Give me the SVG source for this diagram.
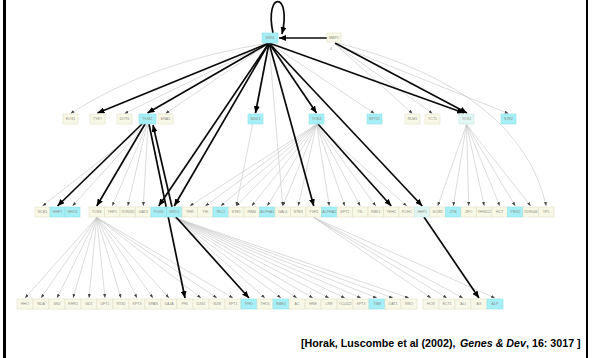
<svg xmlns="http://www.w3.org/2000/svg" width="592" height="358" viewBox="0 0 592 358">
<defs>
<marker id="ah" markerUnits="userSpaceOnUse" markerWidth="7" markerHeight="6" refX="7" refY="3" orient="auto"><path d="M0,0 L7,3 L0,6 z" fill="#000"/></marker>
<marker id="as" markerUnits="userSpaceOnUse" markerWidth="4" markerHeight="3" refX="4" refY="1.5" orient="auto"><path d="M0,0 L4,1.5 L0,3 z" fill="#444"/></marker>
</defs>
<style>
.b{fill:#f8f8e6;stroke:#e0e0c8;stroke-width:.6}
.c{fill:#a6eff6;stroke:#90e2ea;stroke-width:.6}
.p{fill:#e2f7f3;stroke:#cde9e4;stroke-width:.6}
.t{font-family:"Liberation Sans",Arial,sans-serif;font-size:3.6px;fill:#8c8c80;text-anchor:middle}
.k{fill:none;stroke:#0a0a0a;stroke-width:1.7;marker-end:url(#ah)}
.g{fill:none;stroke:#c4c4c4;stroke-width:.6;marker-end:url(#as)}
.cite{font-family:"Liberation Sans",Arial,sans-serif;font-size:10.7px;font-weight:bold;fill:#000}
</style>
<rect width="592" height="358" fill="#fff"/>
<line x1="4.5" y1="0" x2="4.5" y2="358" stroke="#000" stroke-width="3"/>
<line x1="587" y1="0" x2="587" y2="358" stroke="#000" stroke-width="2"/>

<g id="connectors">
<path class="g" d="M269,43 Q150,62 70.5,113.5"/>
<line class="g" x1="269" y1="43" x2="124.5" y2="113.5"/>
<line class="g" x1="269" y1="43" x2="165.5" y2="113.5"/>
<line class="g" x1="269" y1="43" x2="374.5" y2="113.5"/>
<line class="g" x1="269" y1="43" x2="236.25" y2="206"/>
<line class="g" x1="269" y1="43" x2="282.75" y2="206"/>
<line class="g" x1="335" y1="44" x2="412.5" y2="113.5"/>
<line class="g" x1="335" y1="44" x2="432.5" y2="113.5"/>
<line class="g" x1="335" y1="44" x2="508.5" y2="113.5"/>
<path class="g" d="M338,43 Q520,90 546.25,206"/>
<line class="g" x1="146" y1="124.5" x2="42.5" y2="206"/>
<line class="g" x1="146" y1="124.5" x2="72.5" y2="206"/>
<line class="g" x1="147" y1="124.5" x2="112.25" y2="206"/>
<line class="g" x1="147" y1="124.5" x2="127.75" y2="206"/>
<line class="g" x1="148" y1="124.5" x2="143.25" y2="206"/>
<line class="g" x1="316.5" y1="124.5" x2="189.75" y2="206"/>
<line class="g" x1="316.5" y1="124.5" x2="205.25" y2="206"/>
<line class="g" x1="316.5" y1="124.5" x2="220.75" y2="206"/>
<line class="g" x1="316.5" y1="124.5" x2="236.25" y2="206"/>
<line class="g" x1="316.5" y1="124.5" x2="251.75" y2="206"/>
<line class="g" x1="316.5" y1="124.5" x2="267.25" y2="206"/>
<line class="g" x1="316.5" y1="124.5" x2="282.75" y2="206"/>
<line class="g" x1="316.5" y1="124.5" x2="298.25" y2="206"/>
<line class="g" x1="316.5" y1="124.5" x2="329.25" y2="206"/>
<line class="g" x1="316.5" y1="124.5" x2="344.75" y2="206"/>
<line class="g" x1="316.5" y1="124.5" x2="360.25" y2="206"/>
<line class="g" x1="316.5" y1="124.5" x2="375.75" y2="206"/>
<line class="g" x1="316.5" y1="124.5" x2="406.75" y2="206"/>
<line class="g" x1="466.5" y1="124.5" x2="437.75" y2="206"/>
<line class="g" x1="466.5" y1="124.5" x2="453.25" y2="206"/>
<line class="g" x1="466.5" y1="124.5" x2="468.75" y2="206"/>
<line class="g" x1="466.5" y1="124.5" x2="484.25" y2="206"/>
<line class="g" x1="466.5" y1="124.5" x2="499.75" y2="206"/>
<line class="g" x1="466.5" y1="124.5" x2="515.25" y2="206"/>
<line class="g" x1="466.5" y1="124.5" x2="530.75" y2="206"/>
<line class="g" x1="96.75" y1="217.5" x2="25" y2="298"/>
<line class="g" x1="96.75" y1="217.5" x2="41" y2="298"/>
<line class="g" x1="96.75" y1="217.5" x2="57" y2="298"/>
<line class="g" x1="96.75" y1="217.5" x2="73" y2="298"/>
<line class="g" x1="96.75" y1="217.5" x2="89" y2="298"/>
<line class="g" x1="96.75" y1="217.5" x2="105" y2="298"/>
<line class="g" x1="96.75" y1="217.5" x2="121" y2="298"/>
<line class="g" x1="96.75" y1="217.5" x2="137" y2="298"/>
<line class="g" x1="96.75" y1="217.5" x2="153" y2="298"/>
<line class="g" x1="96.75" y1="217.5" x2="169" y2="298"/>
<line class="g" x1="96.75" y1="217.5" x2="201" y2="298"/>
<line class="g" x1="96.75" y1="217.5" x2="217" y2="298"/>
<line class="g" x1="96.75" y1="217.5" x2="233" y2="298"/>
<line class="g" x1="174.25" y1="217.5" x2="265" y2="298"/>
<line class="g" x1="174.25" y1="217.5" x2="281" y2="298"/>
<line class="g" x1="174.25" y1="217.5" x2="297" y2="298"/>
<line class="g" x1="174.25" y1="217.5" x2="313" y2="298"/>
<line class="g" x1="174.25" y1="217.5" x2="329" y2="298"/>
<line class="g" x1="174.25" y1="217.5" x2="345" y2="298"/>
<line class="g" x1="174.25" y1="217.5" x2="361" y2="298"/>
<line class="g" x1="174.25" y1="217.5" x2="377" y2="298"/>
<line class="g" x1="174.25" y1="217.5" x2="393" y2="298"/>
<line class="g" x1="174.25" y1="217.5" x2="409" y2="298"/>
<line class="g" x1="313.75" y1="217.5" x2="431" y2="298"/>
<line class="g" x1="313.75" y1="217.5" x2="447" y2="298"/>
<line class="g" x1="313.75" y1="217.5" x2="463" y2="298"/>
<line class="g" x1="313.75" y1="217.5" x2="495" y2="298"/>
<path class="k" d="M273,33 C264,-9 292,-9 282,34" stroke-width="1.4"/>
<line class="k" x1="327" y1="38" x2="279" y2="38"/>
<line class="k" x1="269" y1="43" x2="97.5" y2="113"/>
<line class="k" x1="269" y1="43" x2="147.5" y2="113"/>
<line class="k" x1="269" y1="43" x2="255.5" y2="113"/>
<line class="k" x1="269" y1="43" x2="316.5" y2="113"/>
<line class="k" x1="269" y1="43" x2="464" y2="113"/>
<line class="k" x1="335" y1="43" x2="467" y2="113"/>
<line class="k" x1="269" y1="43" x2="158.75" y2="206"/>
<line class="k" x1="269" y1="43" x2="174.25" y2="206"/>
<line class="k" x1="269" y1="43" x2="313.75" y2="206"/>
<line class="k" x1="269" y1="43" x2="422.25" y2="206"/>
<line class="k" x1="318" y1="124" x2="391.25" y2="206"/>
<line class="k" x1="142" y1="124" x2="57.5" y2="206"/>
<line class="k" x1="145" y1="124" x2="96.75" y2="206"/>
<line class="k" x1="172" y1="207" x2="153" y2="125"/>
<line class="k" x1="149" y1="124" x2="185" y2="298"/>
<line class="k" x1="176" y1="217" x2="249" y2="298"/>
<line class="k" x1="424" y1="217" x2="479" y2="298"/>
</g>

<g id="n-swi4"><rect class="c" x="262" y="33" width="16" height="10"/><text class="t" x="270" y="39.3">SWI4</text></g>
<g id="n-mbp1"><rect class="b" x="327" y="33" width="14" height="9"/><text class="t" x="334" y="38.8">MBP1</text><text class="t" x="331" y="50">4</text></g>

<g id="n2-eos1"><rect class="b" x="63" y="114" width="15" height="10"/><text class="t" x="70.5" y="120.3">EOS1</text></g>
<g id="n2-tye7"><rect class="b" x="90" y="114" width="15" height="10"/><text class="t" x="97.5" y="120.3">TYE7</text></g>
<g id="n2-dot6"><rect class="b" x="117" y="114" width="15" height="10"/><text class="t" x="124.5" y="120.3">DOT6</text></g>
<g id="n2-plm2"><rect class="c" x="139" y="114" width="17" height="10"/><text class="t" x="147.5" y="120.3">PLM2</text></g>
<g id="n2-ena5"><rect class="b" x="158" y="114" width="15" height="10"/><text class="t" x="165.5" y="120.3">ENA5</text></g>
<g id="n2-ndd1"><rect class="c" x="248" y="114" width="15" height="10"/><text class="t" x="255.5" y="120.3">NDD1</text></g>
<g id="n2-tos4"><rect class="c" x="309" y="114" width="15" height="10"/><text class="t" x="316.5" y="120.3">TOS4</text></g>
<g id="n2-spt21"><rect class="c" x="367" y="114" width="15" height="10"/><text class="t" x="374.5" y="120.3">SPT21</text></g>
<g id="n2-rlm1"><rect class="b" x="405" y="114" width="15" height="10"/><text class="t" x="412.5" y="120.3">RLM1</text></g>
<g id="n2-yct1"><rect class="b" x="425" y="114" width="15" height="10"/><text class="t" x="432.5" y="120.3">YCT1</text></g>
<g id="n2-yox1"><rect class="p" x="459" y="114" width="15" height="10"/><text class="t" x="466.5" y="120.3">YOX1</text></g>
<g id="n2-stb2"><rect class="c" x="501" y="114" width="15" height="10"/><text class="t" x="508.5" y="120.3">STB2</text></g>

<g id="n3-a0"><rect class="b" x="35" y="207" width="15" height="10"/><text class="t" x="42.5" y="213.3">NCE1</text></g>
<g id="n3-a1"><rect class="c" x="50" y="207" width="15" height="10"/><text class="t" x="57.5" y="213.3">HHF1</text></g>
<g id="n3-a2"><rect class="c" x="65" y="207" width="15" height="10"/><text class="t" x="72.5" y="213.3">HHO1</text></g>
<g id="n3-b0"><rect class="b" x="89" y="207" width="15.5" height="10"/><text class="t" x="96.75" y="213.3">TOS8</text></g>
<g id="n3-b1"><rect class="b" x="104.5" y="207" width="15.5" height="10"/><text class="t" x="112.25" y="213.3">YHP1</text></g>
<g id="n3-b2"><rect class="b" x="120" y="207" width="15.5" height="10"/><text class="t" x="127.75" y="213.3">YDR032</text></g>
<g id="n3-b3"><rect class="b" x="135.5" y="207" width="15.5" height="10"/><text class="t" x="143.25" y="213.3">GAT3</text></g>
<g id="n3-b4"><rect class="c" x="151" y="207" width="15.5" height="10"/><text class="t" x="158.75" y="213.3">POG1</text></g>
<g id="n3-b5"><rect class="c" x="166.5" y="207" width="15.5" height="10"/><text class="t" x="174.25" y="213.3">NRD1</text></g>
<g id="n3-b6"><rect class="b" x="182" y="207" width="15.5" height="10"/><text class="t" x="189.75" y="213.3">YHR</text></g>
<g id="n3-b7"><rect class="b" x="197.5" y="207" width="15.5" height="10"/><text class="t" x="205.25" y="213.3">THI</text></g>
<g id="n3-b8"><rect class="c" x="213" y="207" width="15.5" height="10"/><text class="t" x="220.75" y="213.3">TEC1</text></g>
<g id="n3-b9"><rect class="b" x="228.5" y="207" width="15.5" height="10"/><text class="t" x="236.25" y="213.3">STB1</text></g>
<g id="n3-b10"><rect class="b" x="244" y="207" width="15.5" height="10"/><text class="t" x="251.75" y="213.3">RIM4</text></g>
<g id="n3-b11"><rect class="c" x="259.5" y="207" width="15.5" height="10"/><text class="t" x="267.25" y="213.3">ALPHA1</text></g>
<g id="n3-b12"><rect class="b" x="275" y="207" width="15.5" height="10"/><text class="t" x="282.75" y="213.3">GAL4</text></g>
<g id="n3-b13"><rect class="b" x="290.5" y="207" width="15.5" height="10"/><text class="t" x="298.25" y="213.3">STE3</text></g>
<g id="n3-b14"><rect class="b" x="306" y="207" width="15.5" height="10"/><text class="t" x="313.75" y="213.3">YVH1</text></g>
<g id="n3-b15"><rect class="c" x="321.5" y="207" width="15.5" height="10"/><text class="t" x="329.25" y="213.3">ALPHA2</text></g>
<g id="n3-b16"><rect class="b" x="337" y="207" width="15.5" height="10"/><text class="t" x="344.75" y="213.3">SPT2</text></g>
<g id="n3-b17"><rect class="b" x="352.5" y="207" width="15.5" height="10"/><text class="t" x="360.25" y="213.3">YIL</text></g>
<g id="n3-b18"><rect class="b" x="368" y="207" width="15.5" height="10"/><text class="t" x="375.75" y="213.3">RBK1</text></g>
<g id="n3-b19"><rect class="b" x="383.5" y="207" width="15.5" height="10"/><text class="t" x="391.25" y="213.3">YHH1</text></g>
<g id="n3-b20"><rect class="b" x="399" y="207" width="15.5" height="10"/><text class="t" x="406.75" y="213.3">RCH1</text></g>
<g id="n3-b21"><rect class="p" x="414.5" y="207" width="15.5" height="10"/><text class="t" x="422.25" y="213.3">HHP1</text></g>
<g id="n3-b22"><rect class="b" x="430" y="207" width="15.5" height="10"/><text class="t" x="437.75" y="213.3">SCW2</text></g>
<g id="n3-b23"><rect class="c" x="445.5" y="207" width="15.5" height="10"/><text class="t" x="453.25" y="213.3">ZTB</text></g>
<g id="n3-b24"><rect class="b" x="461" y="207" width="15.5" height="10"/><text class="t" x="468.75" y="213.3">ZFO</text></g>
<g id="n3-b25"><rect class="b" x="476.5" y="207" width="15.5" height="10"/><text class="t" x="484.25" y="213.3">YHR012</text></g>
<g id="n3-b26"><rect class="b" x="492" y="207" width="15.5" height="10"/><text class="t" x="499.75" y="213.3">HCT</text></g>
<g id="n3-b27"><rect class="c" x="507.5" y="207" width="15.5" height="10"/><text class="t" x="515.25" y="213.3">YRG2</text></g>
<g id="n3-b28"><rect class="b" x="523" y="207" width="15.5" height="10"/><text class="t" x="530.75" y="213.3">YDR046</text></g>
<g id="n3-b29"><rect class="b" x="538.5" y="207" width="15.5" height="10"/><text class="t" x="546.25" y="213.3">YPL</text></g>

<g id="n4-0"><rect class="b" x="17" y="299" width="16" height="10"/><text class="t" x="25" y="305.3">HHO</text></g>
<g id="n4-1"><rect class="b" x="33" y="299" width="16" height="10"/><text class="t" x="41" y="305.3">NDA</text></g>
<g id="n4-2"><rect class="b" x="49" y="299" width="16" height="10"/><text class="t" x="57" y="305.3">SNJ</text></g>
<g id="n4-3"><rect class="b" x="65" y="299" width="16" height="10"/><text class="t" x="73" y="305.3">RHR1</text></g>
<g id="n4-4"><rect class="b" x="81" y="299" width="16" height="10"/><text class="t" x="89" y="305.3">GD1</text></g>
<g id="n4-5"><rect class="b" x="97" y="299" width="16" height="10"/><text class="t" x="105" y="305.3">UFT1</text></g>
<g id="n4-6"><rect class="b" x="113" y="299" width="16" height="10"/><text class="t" x="121" y="305.3">RT30</text></g>
<g id="n4-7"><rect class="b" x="129" y="299" width="16" height="10"/><text class="t" x="137" y="305.3">SPT3</text></g>
<g id="n4-8"><rect class="b" x="145" y="299" width="16" height="10"/><text class="t" x="153" y="305.3">SPAN</text></g>
<g id="n4-9"><rect class="b" x="161" y="299" width="16" height="10"/><text class="t" x="169" y="305.3">DAJA</text></g>
<g id="n4-10"><rect class="b" x="177" y="299" width="16" height="10"/><text class="t" x="185" y="305.3">PHL</text></g>
<g id="n4-11"><rect class="b" x="193" y="299" width="16" height="10"/><text class="t" x="201" y="305.3">DJG1</text></g>
<g id="n4-12"><rect class="b" x="209" y="299" width="16" height="10"/><text class="t" x="217" y="305.3">SUN</text></g>
<g id="n4-13"><rect class="b" x="225" y="299" width="16" height="10"/><text class="t" x="233" y="305.3">SPT1</text></g>
<g id="n4-14"><rect class="c" x="241" y="299" width="16" height="10"/><text class="t" x="249" y="305.3">PHO</text></g>
<g id="n4-15"><rect class="b" x="257" y="299" width="16" height="10"/><text class="t" x="265" y="305.3">THO1</text></g>
<g id="n4-16"><rect class="c" x="273" y="299" width="16" height="10"/><text class="t" x="281" y="305.3">RME1</text></g>
<g id="n4-17"><rect class="b" x="289" y="299" width="16" height="10"/><text class="t" x="297" y="305.3">AC</text></g>
<g id="n4-18"><rect class="b" x="305" y="299" width="16" height="10"/><text class="t" x="313" y="305.3">HNE</text></g>
<g id="n4-19"><rect class="b" x="321" y="299" width="16" height="10"/><text class="t" x="329" y="305.3">LRR</text></g>
<g id="n4-20"><rect class="b" x="337" y="299" width="16" height="10"/><text class="t" x="345" y="305.3">YCL022</text></g>
<g id="n4-21"><rect class="b" x="353" y="299" width="16" height="10"/><text class="t" x="361" y="305.3">SPT3</text></g>
<g id="n4-22"><rect class="c" x="369" y="299" width="16" height="10"/><text class="t" x="377" y="305.3">TBM</text></g>
<g id="n4-23"><rect class="b" x="385" y="299" width="16" height="10"/><text class="t" x="393" y="305.3">DAT1</text></g>
<g id="n4-24"><rect class="b" x="401" y="299" width="16" height="10"/><text class="t" x="409" y="305.3">RNO</text></g>
<g id="n4-25"><rect class="b" x="423" y="299" width="16" height="10"/><text class="t" x="431" y="305.3">HCR</text></g>
<g id="n4-26"><rect class="b" x="439" y="299" width="16" height="10"/><text class="t" x="447" y="305.3">ECT1</text></g>
<g id="n4-27"><rect class="b" x="455" y="299" width="16" height="10"/><text class="t" x="463" y="305.3">ALI</text></g>
<g id="n4-28"><rect class="b" x="471" y="299" width="16" height="10"/><text class="t" x="479" y="305.3">AX</text></g>
<g id="n4-29"><rect class="c" x="487" y="299" width="16" height="10"/><text class="t" x="495" y="305.3">ALP</text></g>

<text class="cite" x="301" y="347">[Horak, Luscombe et al (2002),</text>
<text class="cite" x="460" y="347" font-style="italic">Genes &amp; Dev</text>
<text class="cite" x="526" y="347">, 16: 3017 ]</text>
</svg>
